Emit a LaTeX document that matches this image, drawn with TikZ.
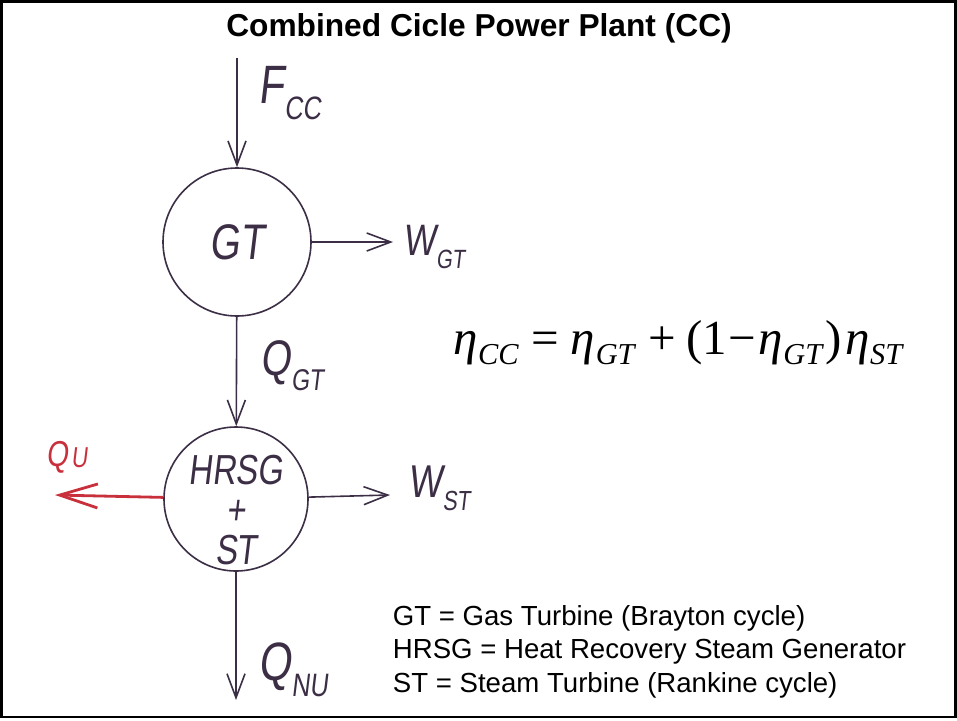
\documentclass[tikz,border=0pt]{standalone}
\usepackage{fontspec}
\usepackage{tikz}
\usetikzlibrary{arrows.meta}
\setmainfont{Liberation Sans}
\newfontfamily\handfont[FakeStretch=0.78,FakeSlant=0.12]{Liberation Sans}
\newfontfamily\eqfont{Liberation Serif}
\definecolor{ink}{HTML}{3B2E45}
\definecolor{redink}{HTML}{C8303C}
\newcommand\hsub[2]{#1\kern0.5pt\raisebox{-0.3em}{\scalebox{0.6}{#2}}}
\newcommand\effsub[1]{\textit{η}\kern0.5pt\raisebox{-0.22em}{\scalebox{0.62}{\textit{#1}}}}

\begin{document}
\begin{tikzpicture}[x=1pt,y=-1pt,
        unit/.style={circle,draw=ink,line width=1.6pt,minimum size=148pt,inner sep=0pt},
        flow/.style={draw=ink,line width=1.6pt,-{Straight Barb[length=24pt,width=18pt]}},
        lbl/.style={text=ink,inner sep=0pt,anchor=base west}]
      \useasboundingbox (0,0) rectangle (957,720);
      \draw[line width=2.5pt] (1.5,1.5) rectangle (955.5,717);
      \node[font=\bfseries\fontsize{31.7}{36}\selectfont,anchor=base] (title) at (479,36.7) {Combined Cicle Power Plant (CC)};
      % units
      \node[unit,text=ink,font=\handfont\fontsize{50}{50}\selectfont] (gt) at (237,242) {GT};
      \node[unit,minimum size=144pt] (hrsg) at (236,499) {};
      \node[text=ink,align=center,inner sep=0pt,font=\handfont\fontsize{42}{40}\selectfont] (hrsgtxt) at (236,510) {HRSG\\+\\ST};
      % free ends
      \coordinate (fin) at (237,58);
      \coordinate (wgtend) at (393,242);
      \coordinate (wstend) at (390,495);
      \coordinate (qnuend) at (236,700);
      \coordinate (quend) at (55,495);
      \foreach \a/\b in {fin/gt,gt/wgtend,gt/hrsg,hrsg/wstend,hrsg/qnuend}
        \draw[flow] (\a) -- (\b);
      \draw[flow,draw=redink,line width=2.8pt,-{Straight Barb[length=38pt,width=24pt]}] (hrsg) -- (quend);
      % labels
      \node[lbl,font=\handfont\fontsize{54}{54}\selectfont] (fcc) at (258,103) {\hsub{F}{CC}};
      \node[lbl,font=\handfont\fontsize{44}{44}\selectfont] (wgt) at (403,255) {\hsub{W}{GT}};
      \node[lbl,font=\handfont\fontsize{50}{50}\selectfont] (qgt) at (260,375) {\hsub{Q}{GT}};
      \node[lbl,font=\handfont\fontsize{46}{46}\selectfont] (wst) at (408,497) {\hsub{W}{ST}};
      \node[lbl,font=\handfont\fontsize{54}{54}\selectfont] (qnu) at (258,680) {\hsub{Q}{NU}};
      \node[lbl,text=redink,font=\handfont\fontsize{36}{36}\selectfont] (qu) at (46,466) {Q\kern3pt\raisebox{-0.05em}{\scalebox{0.8}{U}}};
      % efficiency and legend
      \node[anchor=base west,inner sep=0pt,font=\eqfont\fontsize{49}{49}\selectfont] (eta) at (453,354)
        {\effsub{CC}\kern0.25em=\kern0.25em\effsub{GT}\kern0.25em+\kern0.2em(1\kern2pt−\kern2pt\effsub{GT}\kern2pt)\kern3pt\effsub{ST}};
      \node[anchor=north west,align=left,inner sep=0pt,font=\fontsize{27.6}{33.5}\selectfont] (legend) at (392.7,605)
        {GT = Gas Turbine (Brayton cycle)\\HRSG = Heat Recovery Steam Generator\\ST = Steam Turbine (Rankine cycle)};
\end{tikzpicture}
\end{document}
